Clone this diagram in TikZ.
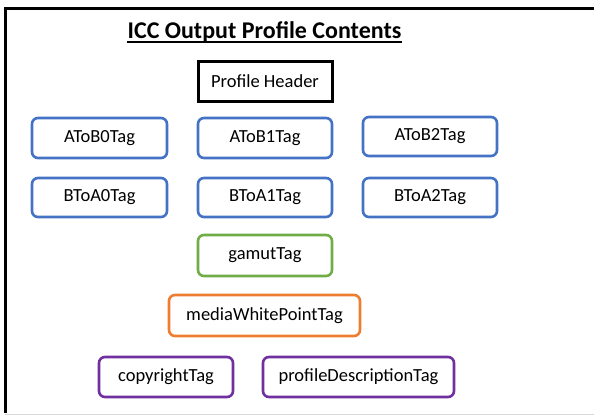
\documentclass[tikz,border=0pt]{standalone}
\usepackage{fontspec}
\setmainfont{Carlito}
\begin{document}
\begin{tikzpicture}[x=1pt,y=-1pt,
  tagbox/.style={draw, rounded corners=6pt, line width=2.6pt, inner sep=0pt, font=\fontsize{18.5}{21}\selectfont},
  bluebox/.style={tagbox, draw={rgb,255:red,68;green,114;blue,196}},
  greenbox/.style={tagbox, draw={rgb,255:red,112;green,173;blue,71}},
  orangebox/.style={tagbox, draw={rgb,255:red,237;green,125;blue,49}},
  purplebox/.style={tagbox, draw={rgb,255:red,112;green,48;blue,160}},
  headbox/.style={draw, line width=3pt, inner sep=0pt, font=\fontsize{18.5}{21}\selectfont}]
\useasboundingbox (0,0) rectangle (594,416);
\fill[white] (0,0) rectangle (594,416);
\draw[line width=3pt] (600,8.5) -- (5,8.5) -- (5,413);
\draw[black!15, line width=1pt] (5,414.5) -- (594,414.5);
\node[font=\bfseries\fontsize{24}{28}\selectfont, inner sep=0pt, anchor=base] (title) at (264.5,38.5) {ICC Output Profile Contents};
\draw[line width=1.3pt] (title.west |- 0,42) coordinate (ul1) -- (title.east |- 0,42) coordinate (ul2);
\node[headbox, minimum width=134pt, minimum height=40pt] (hdr) at (265,81) {Profile Header};
\node[bluebox, minimum width=135pt, minimum height=40pt] (a0) at (99.5,138) {AToB0Tag};
\node[bluebox, minimum width=134pt, minimum height=40pt] (a1) at (265,138) {AToB1Tag};
\node[bluebox, minimum width=134pt, minimum height=39pt] (a2) at (430,136.5) {AToB2Tag};
\node[bluebox, minimum width=135pt, minimum height=39pt] (b0) at (99.5,197.5) {BToA0Tag};
\node[bluebox, minimum width=134pt, minimum height=39pt] (b1) at (265,197.5) {BToA1Tag};
\node[bluebox, minimum width=134pt, minimum height=39pt] (b2) at (430,197.5) {BToA2Tag};
\node[greenbox, minimum width=134pt, minimum height=41pt] (gam) at (265,255.5) {gamutTag};
\node[orangebox, minimum width=191pt, minimum height=41pt] (mwp) at (264.5,315.5) {mediaWhitePointTag};
\node[purplebox, minimum width=134pt, minimum height=40pt] (cpr) at (166,377) {copyrightTag};
\node[purplebox, minimum width=191pt, minimum height=40pt] (pdt) at (358.5,377) {profileDescriptionTag};
\end{tikzpicture}
\end{document}
